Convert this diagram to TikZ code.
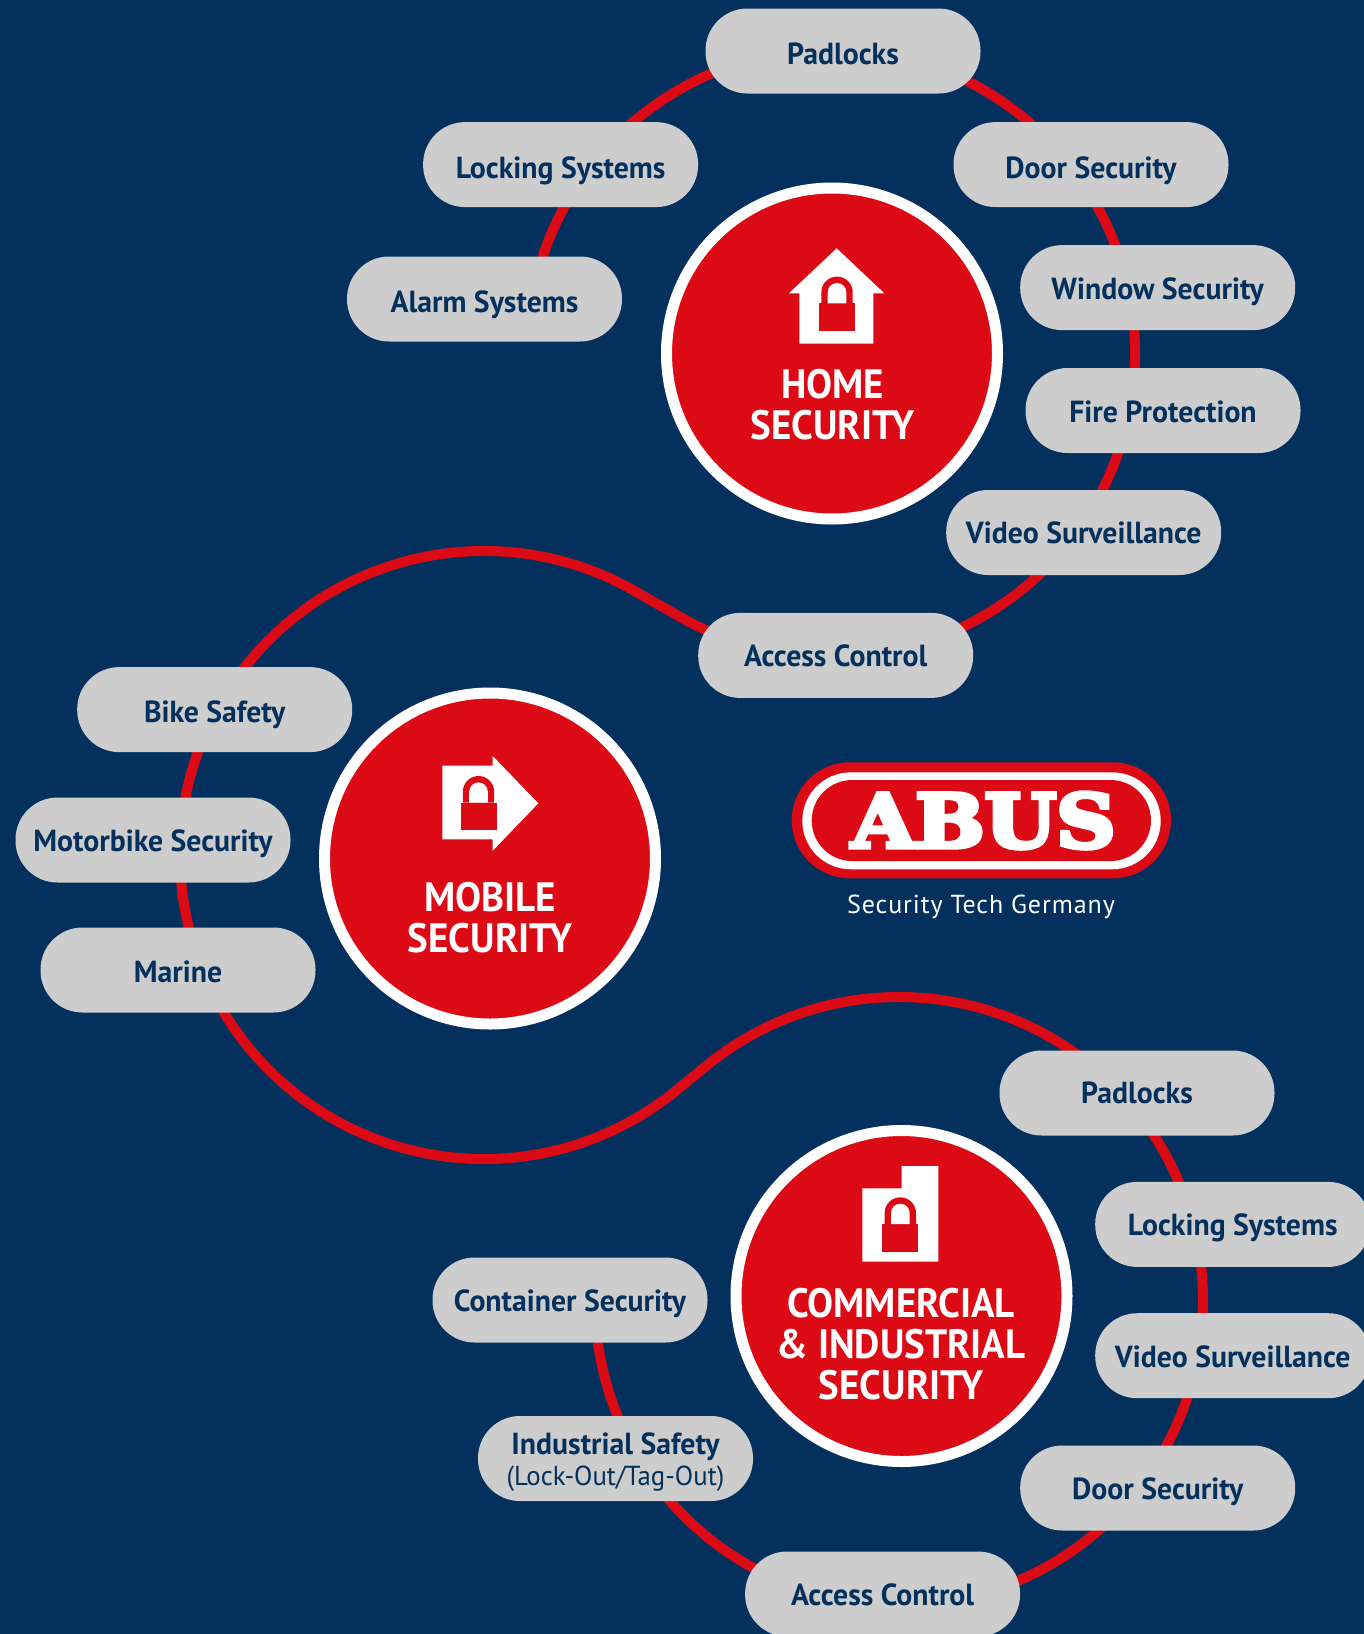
\documentclass[tikz,border=0pt]{standalone}
\usepackage{fontspec}
\usepackage{graphicx}
\usetikzlibrary{calc}
\setmainfont{PT Sans}
\newfontfamily\narrowf[FakeStretch=0.975]{PT Sans}
\newfontfamily\hubf[FakeStretch=0.95]{PT Sans}
\newfontfamily\tagf[LetterSpace=3.5]{PT Sans}
\newfontfamily\logof{DejaVu Serif Bold}
\definecolor{navy}{HTML}{03305C}
\definecolor{brandred}{HTML}{DC0A14}
\definecolor{pillgrey}{HTML}{CDCDCD}
\tikzset{
  pillbase/.style={fill=pillgrey,rounded corners=42pt,minimum width=275pt,minimum height=85pt,inner sep=0pt,text=navy,align=center},
  pill/.style={pillbase,font=\narrowf\bfseries\fontsize{30.5}{30}\selectfont,text height=23pt,text depth=0pt},
  hub/.style={circle,draw=white,line width=11pt,fill=brandred,minimum size=331pt,inner sep=0pt},
  hubtext/.style={text=white,align=center,inner sep=0pt,font=\hubf\bfseries\fontsize{41}{41}\selectfont},
  ring/.style={draw=brandred,line width=10pt},
  icon/.style={fill=white}
}
\newcommand\padlock[2]{%
  \fill[brandred] (#1-18,#2) rectangle (#1+18,#2+27.7);
  \fill[brandred] (#1-15.7,#2) -- ++(0,-11) arc[start angle=180,end angle=0,radius=15.7pt] -- ++(0,11) -- cycle;
  \fill[white] (#1-9.3,#2) -- ++(0,-11) arc[start angle=180,end angle=0,radius=9.3pt] -- ++(0,11) -- cycle;
}
\begin{document}
\begin{tikzpicture}[x=1pt,y=-1pt]
\useasboundingbox (0,0) rectangle (1364,1634);
\fill[navy] (0,0) rectangle (1364,1634);
% ring anchors
\coordinate (homec) at (831,353);
\coordinate (mobc) at (484,855);
\coordinate (comc) at (899,1301);
\coordinate (joinA) at ($(mobc)+(59.35:304pt)$);
\coordinate (joinB) at ($(comc)+(128.94:304pt)$);
\draw[ring] (homec) ++(170:304pt)
  arc[start angle=170,end angle=-120.65,radius=304pt]
  .. controls +(149.35:14pt) and +(-30.65:14pt) .. (joinA)
  arc[start angle=59.35,end angle=308.94,radius=304pt]
  .. controls +(38.94:14pt) and +(218.94:14pt) .. (joinB)
  arc[start angle=128.94,end angle=-180,radius=304pt];
% hubs
\node[hub] (home) at (832,353.5) {};
\node[hub] (mobile) at (490,858.5) {};
\node[hub] (comm) at (901.5,1296) {};
\node[hubtext] (homet) at (832.5,405) {HOME\\SECURITY};
\node[hubtext] (mobt) at (490,917.5) {MOBILE\\SECURITY};
\node[hubtext] (comt) at (901,1344) {COMMERCIAL\\\& INDUSTRIAL\\SECURITY};
% icons
\fill[icon] (836.7,248.3) -- (884.3,293.3) -- (873.3,293.3) -- (873.3,343.7) -- (799.3,343.7) -- (799.3,293.3) -- (789,293.3) -- cycle;
\padlock{837}{303.3}
\fill[icon] (442.3,765.7) -- (492.7,765.7) -- (492.7,756) -- (538.3,803.3) -- (492.7,850.7) -- (492.7,839.3) -- (442.3,839.3) -- cycle;
\padlock{478.5}{802.7}
\fill[icon] (862.3,1188.3) -- (901.7,1188.3) -- (901.7,1166) -- (938.3,1166) -- (938.3,1261.7) -- (862.3,1261.7) -- cycle;
\padlock{900.3}{1224}
% pills
\node[pill,text height=27pt] (p1) at (843,51) {Padlocks};
\node[pill,text height=27pt] (p2) at (560.6,164.6) {Locking Systems};
\node[pill,text height=27pt] (p3) at (1091,164.6) {Door Security};
\node[pill,text height=27pt] (p4) at (484.5,299) {Alarm Systems};
\node[pill] (p5) at (1157.7,287.6) {Window Security};
\node[pill] (p6) at (1163,410.5) {Fire Protection};
\node[pill,text height=21pt] (p7) at (1083.7,532.5) {Video Surveillance};
\node[pill] (p8) at (835.7,655.4) {Access Control};
\node[pill,text height=25pt] (m1) at (214.7,709.6) {Bike Safety};
\node[pill] (m2) at (153,840) {Motorbike Security};
\node[pill,text height=25pt] (m3) at (178,970) {Marine};
\node[pill,text height=21pt] (c1) at (1137,1093) {Padlocks};
\node[pill] (c2) at (1232.7,1224.4) {Locking Systems};
\node[pill] (c3) at (1232.7,1355.7) {Video Surveillance};
\node[pill] (c4) at (1157.7,1488) {Door Security};
\node[pill] (c5) at (882.6,1594) {Access Control};
\node[pill] (c6) at (570,1300) {Container Security};
\node[pillbase] (c7) at (615.5,1458.5) {\rule{0pt}{29pt}{\narrowf\bfseries\fontsize{30.5}{28}\selectfont Industrial Safety}\\[5pt]{\narrowf\fontsize{27.5}{28}\selectfont (Lock-Out/Tag-Out)}};
% logo
\fill[brandred,rounded corners=58pt] (791.7,762.3) rectangle (1171,878.3);
\fill[white,rounded corners=48.5pt] (802.3,772.3) rectangle (1160.7,869.3);
\fill[brandred,rounded corners=40.5pt] (811.7,780) rectangle (1151,861);
\node[text=white,inner sep=0pt] (logo) at (983.5,820.5) {\resizebox{264pt}{55pt}{\special{pdf:code q 2 Tr 0.6 w 1 1 1 RG}\logof ABUS\special{pdf:code Q}}};
\node[text=white,inner sep=0pt,font=\tagf\fontsize{26}{28}\selectfont] (tag) at (981,907) {Security Tech Germany};
\end{tikzpicture}
\end{document}
